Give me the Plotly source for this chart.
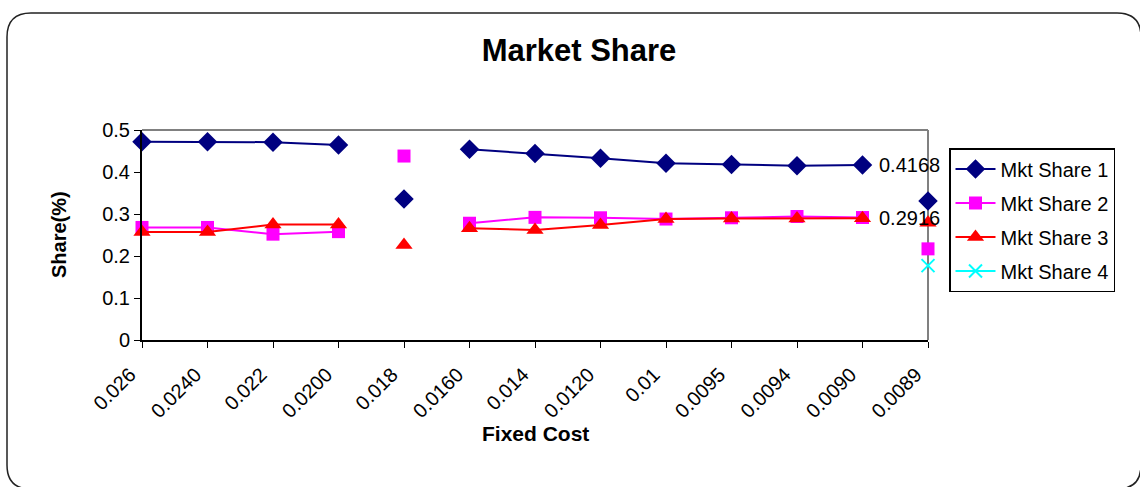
import plotly.graph_objects as go

# ---- data ----
fixed_cost = ["0.026", "0.0240", "0.022", "0.0200", "0.018", "0.0160", "0.014",
              "0.0120", "0.01", "0.0095", "0.0094", "0.0090", "0.0089"]
mkt_share_1 = [0.472, 0.472, 0.471, 0.464, 0.336, 0.454, 0.444, 0.433, 0.421, 0.418, 0.415, 0.4168, 0.331]
mkt_share_2 = [0.268, 0.268, 0.252, 0.258, 0.438, 0.278, 0.292, 0.291, 0.288, 0.291, 0.294, 0.2916, 0.217]
mkt_share_3 = [0.257, 0.257, 0.275, 0.275, 0.226, 0.266, 0.262, 0.274, 0.288, 0.289, 0.289, 0.290, 0.279]
mkt_share_4 = [None] * 12 + [0.177]
series_names = ["Mkt Share 1", "Mkt Share 2", "Mkt Share 3", "Mkt Share 4"]
unlinked_idx = [4, 12]          # points drawn without connecting line segments
labelled_idx = 11               # point carrying a data label (series 1 and 2)

FONT = "Arial, Liberation Sans, sans-serif"
W, H = 1140, 487
ML, MR, MT, MB = 142, 212, 130, 147
PW, PH = W - ML - MR, H - MT - MB

def px(x):
    return (x - ML) / PW

def py(y):
    return (H - MB - y) / PH

styles = [
    dict(color="#000080", symbol="diamond", size=15),
    dict(color="#FF00FF", symbol="square", size=13),
    dict(color="#FF0000", symbol="triangle-up", size=15),
    dict(color="#00FFFF", symbol="x-thin-open", size=13),
]
all_series = [mkt_share_1, mkt_share_2, mkt_share_3, mkt_share_4]

fig = go.Figure()
for name, vals, st in zip(series_names, all_series, styles):
    line_vals = [None if i in unlinked_idx else v for i, v in enumerate(vals)]
    iso_vals = [v if i in unlinked_idx else None for i, v in enumerate(vals)]
    marker = dict(color=st["color"], symbol=st["symbol"], size=st["size"],
                  line=dict(color=st["color"], width=2 if "x" in st["symbol"] else 0))
    has_line = any(v is not None for v in line_vals)
    fig.add_trace(go.Scatter(
        x=fixed_cost, y=line_vals if has_line else vals, name=name, legendgroup=name,
        mode="lines+markers", line=dict(color=st["color"], width=2),
        marker=marker, cliponaxis=False, connectgaps=False,
        showlegend=True))
    if has_line:
        fig.add_trace(go.Scatter(
            x=fixed_cost, y=iso_vals, name=name, legendgroup=name,
            mode="markers", marker=marker, cliponaxis=False, showlegend=False))

# data labels (x given as category index on the category axis)
for vals in (mkt_share_1, mkt_share_2):
    fig.add_annotation(x=labelled_idx, y=vals[labelled_idx],
                       text=f"{vals[labelled_idx]}", showarrow=False,
                       xanchor="left", yanchor="middle", xshift=14,
                       font=dict(family=FONT, size=20, color="black"))

# axis titles
fig.add_annotation(xref="paper", yref="paper", x=px(46), y=py(235), text="<b>Share(%)</b>",
                   textangle=-90, showarrow=False, font=dict(family=FONT, size=20, color="black"))
fig.add_annotation(xref="paper", yref="paper", x=px(535), y=py(447), text="<b>Fixed Cost</b>",
                   showarrow=False, font=dict(family=FONT, size=21, color="black"))

# outer rounded border
L, T, R, B, r = 7, 13, 1141, 489, 24
path = (f"M {px(L+r)} {py(T)} L {px(R-r)} {py(T)} Q {px(R)} {py(T)} {px(R)} {py(T+r)} "
        f"L {px(R)} {py(B-r)} Q {px(R)} {py(B)} {px(R-r)} {py(B)} "
        f"L {px(L+r)} {py(B)} Q {px(L)} {py(B)} {px(L)} {py(B-r)} "
        f"L {px(L)} {py(T+r)} Q {px(L)} {py(T)} {px(L+r)} {py(T)} Z")
fig.add_shape(type="path", path=path, xref="paper", yref="paper",
              line=dict(color="#222222", width=1.5), layer="below")
# gray top/right plot border
fig.add_shape(type="line", xref="paper", yref="paper", x0=0, x1=1, y0=1, y1=1,
              line=dict(color="#808080", width=2), layer="below")
fig.add_shape(type="line", xref="paper", yref="paper", x0=1, x1=1, y0=0, y1=1,
              line=dict(color="#808080", width=2), layer="below")

fig.update_layout(
    width=W, height=H,
    margin=dict(l=ML, r=MR, t=MT, b=MB, autoexpand=False),
    paper_bgcolor="white", plot_bgcolor="white",
    font=dict(family=FONT, color="black"),
    title=dict(text="<b>Market Share</b>", x=579 / W, xanchor="center",
               y=1 - 50 / H, yanchor="middle", font=dict(family=FONT, size=31, color="black")),
    showlegend=True,
    legend=dict(x=px(949), y=py(148), xanchor="left", yanchor="top",
                bordercolor="black", borderwidth=1.5, bgcolor="white",
                font=dict(family=FONT, size=20, color="black"),
                tracegroupgap=5, itemwidth=40),
    xaxis=dict(type="category", categoryorder="array", categoryarray=fixed_cost,
               range=[0, len(fixed_cost) - 1], showgrid=False, zeroline=False,
               showline=True, linecolor="black", linewidth=2,
               ticks="outside", ticklen=6, tickcolor="black", tickwidth=1,
               tickangle=-45, ticklabelshift=-12, ticklabelstandoff=7,
               tickfont=dict(family=FONT, size=20, color="black")),
    yaxis=dict(range=[0, 0.5], dtick=0.1, tick0=0, showgrid=False, zeroline=False,
               showline=True, linecolor="black", linewidth=2,
               ticks="outside", ticklen=6, tickcolor="black", tickwidth=1,
               tickformat="~g", tickfont=dict(family=FONT, size=20, color="black")),
)

fig.write_html("out.html", config={"displayModeBar": False},
               post_script="document.body.style.margin='0';document.body.style.padding='0';")
